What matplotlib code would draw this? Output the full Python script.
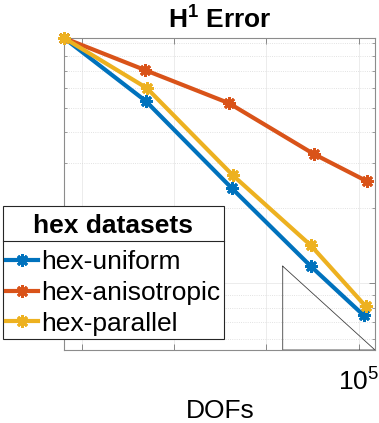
import numpy as np
import matplotlib
matplotlib.use('Agg')
import matplotlib.pyplot as plt
from matplotlib.ticker import FixedLocator, NullLocator, NullFormatter, LogLocator
from matplotlib.lines import Line2D
from matplotlib.offsetbox import PaddedBox

plt.rcParams['font.family'] = ['Liberation Sans', 'DejaVu Sans']
plt.rcParams['mathtext.fontset'] = 'custom'
plt.rcParams['mathtext.rm'] = 'Liberation Sans'
plt.rcParams['mathtext.bf'] = 'Liberation Sans:bold'

# values (log-log)
dofs_uniform = [64, 492, 4210, 30200, 113000]
err_uniform = [0.946, 0.531, 0.239, 0.117, 0.0746]
dofs_aniso = [64, 480, 3910, 32500, 122000]
err_aniso = [0.946, 0.706, 0.521, 0.327, 0.255]
dofs_parallel = [64, 505, 4320, 30200, 119000]
err_parallel = [0.946, 0.598, 0.269, 0.1416, 0.081]

# slope -1/3 reference triangle
tri_x = [1.5e4, 1.5e4, 1.5e5, 1.5e4]
tri_y = [0.117, 0.0543, 0.0543, 0.117]

labels = ['hex-uniform', 'hex-anisotropic', 'hex-parallel']
colors = ['#0072BD', '#D95319', '#EDB120']
FS = 19

W, H = 379, 423
fig = plt.figure(figsize=(W / 100, H / 100), dpi=100)
ax = fig.add_axes([64 / W, 1 - 350 / H, (375 - 64) / W, (350 - 38) / H])

ax.plot(tri_x, tri_y, color='#404040', lw=0.6, zorder=2)

handles = []
for x, y, c in zip([dofs_uniform, dofs_aniso, dofs_parallel],
                   [err_uniform, err_aniso, err_parallel], colors):
    h, = ax.plot(x, y, color=c, lw=3, marker=(8, 2, 0), ms=9, mew=2,
                 mec=c, zorder=3, clip_on=False)
    handles.append(h)

ax.set_xscale('log')
ax.set_yscale('log')
ax.set_xlim(64, 1.5e5)
ax.set_ylim(0.0543, 0.946)

ax.xaxis.set_major_locator(FixedLocator([1e2, 1e3, 1e4, 1e5]))
ax.set_xticklabels(['', '', '', r'$10^5$'])
ax.xaxis.set_minor_locator(NullLocator())
ax.yaxis.set_major_locator(FixedLocator([0.1]))
ax.yaxis.set_major_formatter(NullFormatter())
ax.yaxis.set_minor_locator(LogLocator(base=10, subs=np.arange(2, 10)))
ax.yaxis.set_minor_formatter(NullFormatter())

ax.tick_params(which='both', direction='in', top=True, right=True,
               color='#777777', labelsize=FS, pad=12)
ax.tick_params(which='major', length=4, width=0.6)
ax.tick_params(which='minor', length=2.5, width=0.5)

ax.grid(True, which='major', color='#ececec', lw=0.7, ls='-')
ax.grid(True, which='minor', axis='y', color='#d9d9d9', lw=0.6, ls=':')
ax.set_axisbelow(True)
for s in ax.spines.values():
    s.set_color('#8c8c8c')
    s.set_linewidth(0.8)

ax.set_title(r'$\mathbf{H^1}$ Error', fontsize=FS, fontweight='bold', pad=7)
fig.text(220 / W, 1 - 418 / H, 'DOFs', fontsize=FS, ha='center', va='baseline')

leg = ax.legend(handles, labels, title='hex datasets', loc='upper left',
                bbox_to_anchor=(3 / W, 1 - 206 / H), bbox_transform=fig.transFigure,
                borderaxespad=0, fontsize=FS,
                title_fontproperties={'weight': 'bold', 'size': FS},
                frameon=True, fancybox=False, edgecolor='#262626', framealpha=1,
                handlelength=1.2, handletextpad=0.12, labelspacing=0.258,
                borderpad=0.13)
leg.get_frame().set_linewidth(0.8)
leg.set_zorder(10)
# pad the title a little and tighten the gap to the entries
leg._legend_box._children[0] = PaddedBox(leg._legend_title_box, pad=3.6)
leg._legend_box.sep = 4.8

# separator under the legend title
fig.canvas.draw()
fb = leg.get_frame().get_window_extent()
tb = leg.get_title().get_window_extent()
ysep = tb.y0 - 2.5
sep = Line2D([fb.x0, fb.x1], [ysep, ysep], transform=None,
             color='#262626', lw=0.8, zorder=11)
fig.add_artist(sep)

fig.savefig('out.png', dpi=100)
